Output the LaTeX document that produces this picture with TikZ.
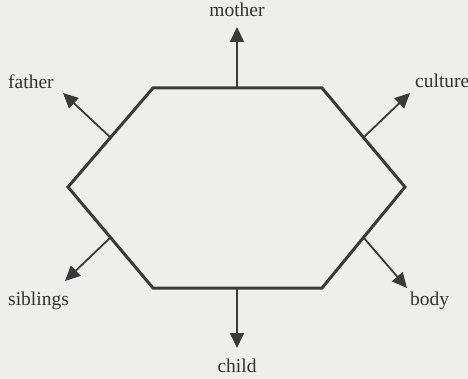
\documentclass[tikz,border=0pt]{standalone}
\usepackage{fontspec}
\setmainfont{Liberation Serif}
\usetikzlibrary{arrows.meta}
\definecolor{bg}{RGB}{238,238,237}
\definecolor{ink}{RGB}{58,58,58}
\definecolor{txt}{RGB}{50,50,50}
\begin{document}
\begin{tikzpicture}[x=1pt,y=-1pt,
  hexline/.style={draw=ink,line width=3pt,line join=miter},
  outarrow/.style={draw=ink,line width=1.8pt,-{Triangle[length=15pt,width=14pt]}},
  lbl/.style={text=txt,font=\fontsize{19.5}{22}\selectfont,inner sep=0pt}]
\fill[bg] (0,0) rectangle (468,379);
\useasboundingbox (0,0) rectangle (468,379);
% hexagon corners
\coordinate (tl) at (153,88);
\coordinate (tr) at (322,88);
\coordinate (r) at (405,187);
\coordinate (br) at (322,288);
\coordinate (bl) at (153,288);
\coordinate (l) at (68,187);
\draw[hexline] (tl) -- (tr) -- (r) -- (br) -- (bl) -- (l) -- cycle;
% edge midpoints
\coordinate (mtop) at (237,88);
\coordinate (mbot) at (237,288);
\coordinate (mul) at (110.5,137.5);
\coordinate (mur) at (363.5,137.5);
\coordinate (mll) at (110.5,237.5);
\coordinate (mlr) at (363.5,237.5);
% arrow tips
\coordinate (tmother) at (237,27);
\coordinate (tfather) at (63,93);
\coordinate (tculture) at (410,93);
\coordinate (tsiblings) at (65,281);
\coordinate (tbody) at (407,288);
\coordinate (tchild) at (237,348);
\draw[outarrow] (mtop) -- (tmother);
\draw[outarrow] (mul) -- (tfather);
\draw[outarrow] (mur) -- (tculture);
\draw[outarrow] (mll) -- (tsiblings);
\draw[outarrow] (mlr) -- (tbody);
\draw[outarrow] (mbot) -- (tchild);
% labels
\node[lbl,anchor=base] (mother) at (237,17) {mother};
\node[lbl,anchor=base west] (father) at (8,89) {father};
\node[lbl,anchor=base west] (culture) at (415,88) {culture};
\node[lbl,anchor=base west] (siblings) at (8,305) {siblings};
\node[lbl,anchor=base west] (body) at (410,305) {body};
\node[lbl,anchor=base] (child) at (237,372) {child};
\end{tikzpicture}
\end{document}
